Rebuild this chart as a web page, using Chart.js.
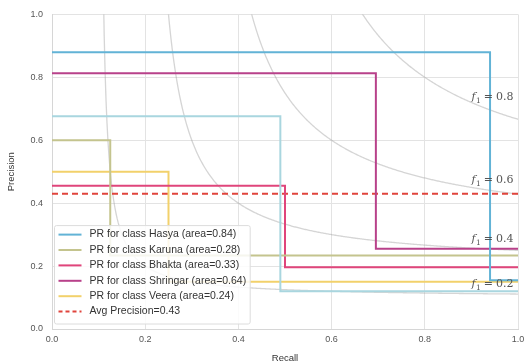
<!DOCTYPE html>
<html>
<head>
<meta charset="utf-8">
<script src="https://cdn.jsdelivr.net/npm/chart.js@4.4.1/dist/chart.umd.min.js"></script>
<style>
  html, body { margin: 0; padding: 0; background: #fff; }
  #wrap { width: 525px; height: 364px; }
</style>
</head>
<body>
<div id="wrap"><canvas id="pr"></canvas></div>
<script>
// per-class precision/recall step curves (vertices, joined with stepped: 'before')
const classNames = ['Hasya', 'Karuna', 'Bhakta', 'Shringar', 'Veera'];
const classAreas = [0.84, 0.28, 0.33, 0.64, 0.24];
const classColors = ['#62b3d6', '#c4c48e', '#e0457b', '#b8418a', '#f2d16b'];

const hasyaRecall = [0, 0.94, 1.0];
const hasyaPrecision = [0.88, 0.155, 0.155];
const karunaRecall = [0, 0.125, 1.0];
const karunaPrecision = [0.6, 0.234, 0.234];
const bhaktaRecall = [0, 0.5, 1.0];
const bhaktaPrecision = [0.455, 0.196, 0.196];
const shringarRecall = [0, 0.695, 1.0];
const shringarPrecision = [0.813, 0.255, 0.255];
const veeraRecall = [0, 0.25, 1.0];
const veeraPrecision = [0.5, 0.15, 0.15];
// extra curve with no legend entry
const extraRecall = [0, 0.49, 1.0];
const extraPrecision = [0.676, 0.12, 0.12];

const avgPrecision = 0.43;
const f1Levels = [0.2, 0.4, 0.6, 0.8];
const axisTicks = [0, 0.2, 0.4, 0.6, 0.8, 1.0];

const FONT = '"Liberation Sans", Arial, sans-serif';

const toPoints = (rs, ps) => rs.map((r, i) => ({ x: r, y: ps[i] }));

const curves = [
  [hasyaRecall, hasyaPrecision],
  [karunaRecall, karunaPrecision],
  [bhaktaRecall, bhaktaPrecision],
  [shringarRecall, shringarPrecision],
  [veeraRecall, veeraPrecision]
];

const datasets = [{
  label: '',
  data: toPoints(extraRecall, extraPrecision),
  borderColor: '#a9d6df',
  borderWidth: 2,
  stepped: 'before',
  pointRadius: 0,
  inLegend: false
}];
curves.forEach((c, i) => {
  datasets.push({
    label: 'PR for class ' + classNames[i] + ' (area=' + classAreas[i].toFixed(2) + ')',
    data: toPoints(c[0], c[1]),
    borderColor: classColors[i],
    borderWidth: 2,
    stepped: 'before',
    pointRadius: 0
  });
});
datasets.push({
  label: 'Avg Precision=' + avgPrecision.toFixed(2),
  data: toPoints([0, 1], [avgPrecision, avgPrecision]),
  borderColor: '#e0443c',
  borderWidth: 2,
  borderDash: [6, 4],
  pointRadius: 0
});

// light grey iso-F1 guide curves and their labels
const isoF1 = {
  id: 'isoF1',
  beforeDatasetsDraw(chart) {
    const { ctx, chartArea: a, scales: { x, y } } = chart;
    ctx.save();
    ctx.beginPath();
    ctx.rect(a.left, a.top, a.width, a.height);
    ctx.clip();
    ctx.strokeStyle = 'rgba(150,150,150,0.4)';
    ctx.lineWidth = 1.3;
    f1Levels.forEach(f => {
      ctx.beginPath();
      let started = false;
      for (let r = f / 2 + 0.002; r <= 1.0001; r += 0.002) {
        const p = f * r / (2 * r - f);
        if (p > 1.1) continue;
        const px = x.getPixelForValue(r), py = y.getPixelForValue(p);
        if (!started) { ctx.moveTo(px, py); started = true; } else ctx.lineTo(px, py);
      }
      ctx.stroke();
    });
    ctx.restore();
  },
  afterDatasetsDraw(chart) {
    const { ctx, scales: { x, y } } = chart;
    ctx.save();
    ctx.fillStyle = '#555';
    ctx.textBaseline = 'alphabetic';
    f1Levels.forEach(f => {
      const r = 0.919;
      const p = f * r / (2 * r - f) + 0.02;
      let px = x.getPixelForValue(0.9);
      const py = y.getPixelForValue(p);
      ctx.font = 'italic 11px "DejaVu Serif", serif';
      ctx.fillText('f', px, py);
      px += ctx.measureText('f').width + 0.5;
      ctx.font = '7.5px "DejaVu Serif", serif';
      ctx.fillText('1', px, py + 3);
      px += ctx.measureText('1').width + 3;
      ctx.font = '11px "DejaVu Serif", serif';
      ctx.fillText('=', px, py);
      px += ctx.measureText('=').width + 3;
      ctx.fillText(f.toFixed(1), px, py);
    });
    ctx.restore();
  }
};

// legend box drawn inside the plot, lower left
const innerLegend = {
  id: 'innerLegend',
  afterDatasetsDraw(chart) {
    const { ctx, chartArea: a } = chart;
    const items = chart.data.datasets.filter(d => d.inLegend !== false);
    ctx.save();
    ctx.font = '10.5px ' + FONT;
    const textW = Math.max(...items.map(d => ctx.measureText(d.label).width));
    const rowH = 15.4;
    const boxX = a.left + 2.5, boxW = 35 + textW + 4;
    const boxH = rowH * items.length + 6;
    const boxY = a.bottom - 5 - boxH;
    ctx.fillStyle = 'rgba(255,255,255,0.85)';
    ctx.strokeStyle = '#dcdcdc';
    ctx.lineWidth = 1;
    ctx.beginPath();
    ctx.roundRect(boxX, boxY, boxW, boxH, 2);
    ctx.fill();
    ctx.stroke();
    items.forEach((d, i) => {
      const cy = boxY + 9 + rowH * i;
      ctx.strokeStyle = d.borderColor;
      ctx.lineWidth = 2;
      ctx.setLineDash(d.borderDash ? [4, 3] : []);
      ctx.beginPath();
      ctx.moveTo(boxX + 4, cy);
      ctx.lineTo(boxX + 27, cy);
      ctx.stroke();
      ctx.setLineDash([]);
      ctx.fillStyle = '#333';
      ctx.textBaseline = 'middle';
      ctx.fillText(d.label, boxX + 35, cy);
    });
    ctx.restore();
  }
};

new Chart(document.getElementById('pr').getContext('2d'), {
  type: 'line',
  data: { datasets },
  options: {
    responsive: true,
    maintainAspectRatio: false,
    animation: false,
    layout: { padding: { top: 8, right: 7, left: 0, bottom: 0 } },
    plugins: {
      legend: { display: false },
      tooltip: { enabled: false }
    },
    scales: {
      x: {
        type: 'linear',
        min: 0,
        max: 1,
        afterBuildTicks: s => { s.ticks = axisTicks.map(v => ({ value: v })); },
        afterFit: s => { s.height = 35; s.paddingLeft = 0; s.paddingRight = 0; },
        ticks: {
          callback: v => v.toFixed(1),
          font: { family: FONT, size: 9 },
          color: '#555',
          padding: 5,
          maxRotation: 0
        },
        grid: { color: '#e3e3e3', drawTicks: false },
        border: { color: '#d6d6d6' },
        title: { display: true, text: 'Recall', font: { family: FONT, size: 9.5 }, color: '#333', padding: { top: 1, bottom: 0 } }
      },
      y: {
        min: 0,
        max: 1,
        afterBuildTicks: s => { s.ticks = axisTicks.map(v => ({ value: v })); },
        afterFit: s => { s.width = 52; },
        ticks: {
          callback: v => v.toFixed(1),
          font: { family: FONT, size: 9 },
          color: '#555',
          padding: 9
        },
        grid: { color: '#e3e3e3', drawTicks: false },
        border: { color: '#d6d6d6' },
        title: { display: true, text: 'Precision', font: { family: FONT, size: 9.5 }, color: '#333', padding: { top: 6, bottom: 2 } }
      }
    }
  },
  plugins: [isoF1, innerLegend]
});
</script>
</body>
</html>
